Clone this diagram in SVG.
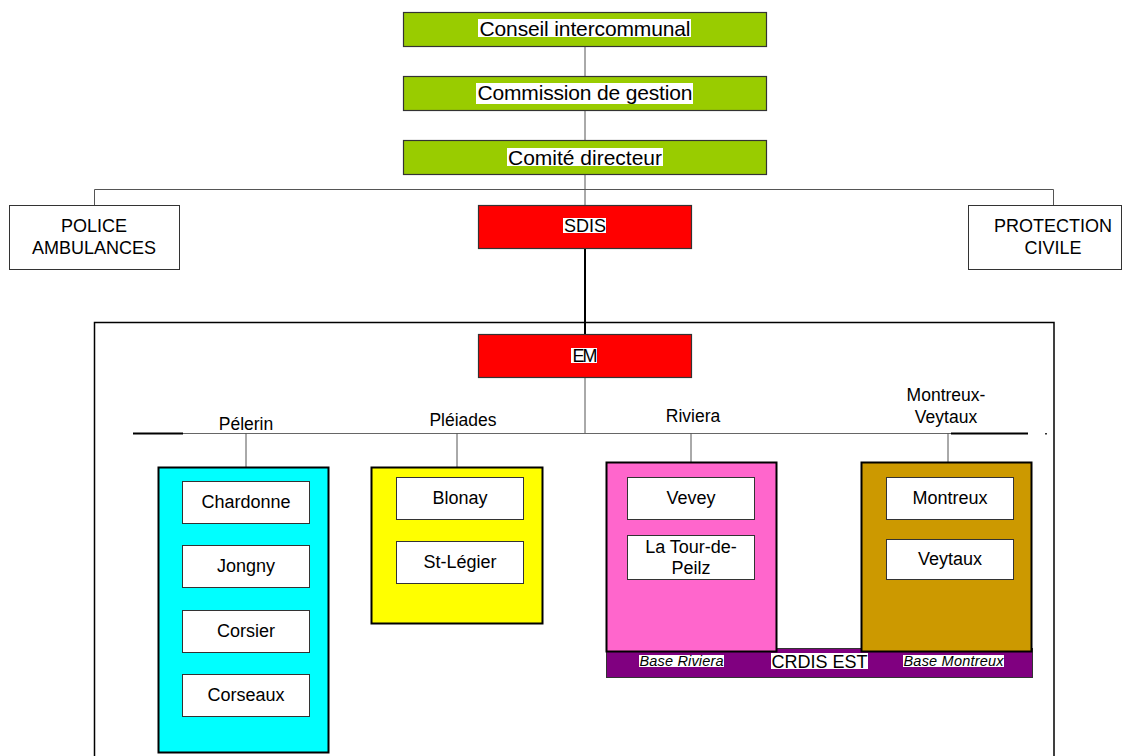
<svg xmlns="http://www.w3.org/2000/svg" width="1131" height="756" viewBox="0 0 1131 756">
<style>
text{font-family:"Liberation Sans",Arial,sans-serif;fill:#000;text-anchor:middle}
.t20{font-size:21px}
.t17{font-size:18px}
.t16{font-size:17.5px}
.it{font-size:14.5px;font-style:italic}
.green{fill:#99CC00;stroke:#333;stroke-width:1.2}
.red{fill:#FF0000;stroke:#333;stroke-width:1.2}
.plain{fill:#fff;stroke:#333;stroke-width:1}
.inner{fill:#fff;stroke:#333;stroke-width:1}
.grp{stroke:#000;stroke-width:2}
.hl{fill:#fff}
.thin{stroke:#555;stroke-width:1;fill:none}
</style>
<rect x="0" y="0" width="1131" height="756" fill="#fff"/>

<g id="connectors">
<line class="thin" x1="585" y1="46" x2="585" y2="76"/>
<line class="thin" x1="585" y1="110" x2="585" y2="140"/>
<line class="thin" x1="585" y1="175" x2="585" y2="205"/>
<polyline class="thin" points="94.5,205 94.5,189.5 1053.5,189.5 1053.5,205"/>
<line x1="585" y1="248" x2="585" y2="334" stroke="#000" stroke-width="2"/>
<line class="thin" x1="585" y1="377" x2="585" y2="433"/>
<line x1="183" y1="433.5" x2="951" y2="433.5" stroke="#666" stroke-width="1"/>
<line x1="133" y1="433.5" x2="183" y2="433.5" stroke="#000" stroke-width="1.8"/>
<line x1="951" y1="433.5" x2="1028" y2="433.5" stroke="#000" stroke-width="1.8"/>
<rect x="1045" y="433" width="2" height="1.5" fill="#333"/>
<line class="thin" x1="246" y1="433" x2="246" y2="467"/>
<line class="thin" x1="457" y1="433" x2="457" y2="467"/>
<line class="thin" x1="691" y1="433" x2="691" y2="462"/>
<line class="thin" x1="948" y1="433" x2="948" y2="462"/>
</g>

<g id="conseil">
<rect class="green" x="403.5" y="12.5" width="363" height="34"/>
<rect class="hl" x="478" y="19" width="213" height="18"/>
<text class="t20" x="585" y="35.5" textLength="211">Conseil intercommunal</text>
</g>
<g id="commission">
<rect class="green" x="403.5" y="76.5" width="363" height="34"/>
<rect class="hl" x="476" y="83" width="217" height="21"/>
<text class="t20" x="585" y="100" textLength="215">Commission de gestion</text>
</g>
<g id="comite">
<rect class="green" x="403.5" y="140.5" width="363" height="34"/>
<rect class="hl" x="507" y="148" width="156" height="18"/>
<text class="t20" x="585" y="164.5" textLength="154">Comité directeur</text>
</g>

<g id="police">
<rect class="plain" x="9.5" y="205.5" width="170" height="64"/>
<text class="t17" x="94" y="232">POLICE</text>
<text class="t17" x="94" y="254">AMBULANCES</text>
</g>
<g id="protection">
<rect class="plain" x="968.5" y="205.5" width="153" height="64"/>
<text class="t17" x="1053" y="232">PROTECTION</text>
<text class="t17" x="1053" y="254">CIVILE</text>
</g>

<g id="sdis">
<rect class="red" x="478.5" y="205.5" width="213" height="43"/>
<rect class="hl" x="563" y="218" width="43" height="15"/>
<text class="t17" x="585" y="232" textLength="42">SDIS</text>
</g>

<g id="em-frame">
<rect x="94.5" y="322.5" width="959.5" height="450" fill="none" stroke="#000" stroke-width="1.5"/>
</g>

<g id="em">
<rect class="red" x="478.5" y="334.5" width="213" height="43"/>
<rect class="hl" x="571" y="348" width="26" height="15"/>
<text class="t17" x="585" y="362" textLength="25">EM</text>
</g>

<g id="label-pelerin"><text class="t16" x="246" y="430">Pélerin</text></g>
<g id="label-pleiades"><text class="t16" x="463" y="426">Pléiades</text></g>
<g id="label-riviera"><text class="t16" x="693" y="422">Riviera</text></g>
<g id="label-montreux-veytaux">
<text class="t16" x="946" y="401">Montreux-</text>
<text class="t16" x="946" y="423">Veytaux</text>
</g>

<g id="crdis-est">
<rect x="606.5" y="648.5" width="426" height="29" fill="#800080" stroke="#333" stroke-width="1"/>
<rect class="hl" x="639" y="655" width="85" height="12"/>
<text class="it" x="681.5" y="666" textLength="84">Base Riviera</text>
<rect class="hl" x="771" y="653" width="97" height="16"/>
<text class="t17" x="819.5" y="668" textLength="96">CRDIS EST</text>
<rect class="hl" x="903" y="655" width="101" height="12"/>
<text class="it" x="953.5" y="666" textLength="100">Base Montreux</text>
</g>

<g id="pelerin">
<rect class="grp" x="158.5" y="467.5" width="170" height="285" fill="#00FFFF"/>
<rect class="inner" x="182.5" y="481.5" width="127" height="42"/>
<text class="t17" x="246" y="508">Chardonne</text>
<rect class="inner" x="182.5" y="545.5" width="127" height="42"/>
<text class="t17" x="246" y="572">Jongny</text>
<rect class="inner" x="182.5" y="610.5" width="127" height="42"/>
<text class="t17" x="246" y="637">Corsier</text>
<rect class="inner" x="182.5" y="674.5" width="127" height="42"/>
<text class="t17" x="246" y="701">Corseaux</text>
</g>

<g id="pleiades">
<rect class="grp" x="371.5" y="467.5" width="171" height="156" fill="#FFFF00"/>
<rect class="inner" x="396.5" y="477.5" width="127" height="42"/>
<text class="t17" x="460" y="504">Blonay</text>
<rect class="inner" x="396.5" y="541.5" width="127" height="42"/>
<text class="t17" x="460" y="568">St-Légier</text>
</g>

<g id="riviera">
<rect class="grp" x="606.5" y="462.5" width="170" height="189" fill="#FF66CC"/>
<rect class="inner" x="627.5" y="477.5" width="127" height="42"/>
<text class="t17" x="691" y="504">Vevey</text>
<rect class="inner" x="627.5" y="535.5" width="127" height="44"/>
<text class="t17" x="691" y="553">La Tour-de-</text>
<text class="t17" x="691" y="574">Peilz</text>
</g>

<g id="montreux-veytaux">
<rect class="grp" x="861.5" y="462.5" width="170" height="189" fill="#CC9900"/>
<rect class="inner" x="886.5" y="477.5" width="127" height="42"/>
<text class="t17" x="950" y="504">Montreux</text>
<rect class="inner" x="886.5" y="539.5" width="127" height="40"/>
<text class="t17" x="950" y="565">Veytaux</text>
</g>
</svg>
